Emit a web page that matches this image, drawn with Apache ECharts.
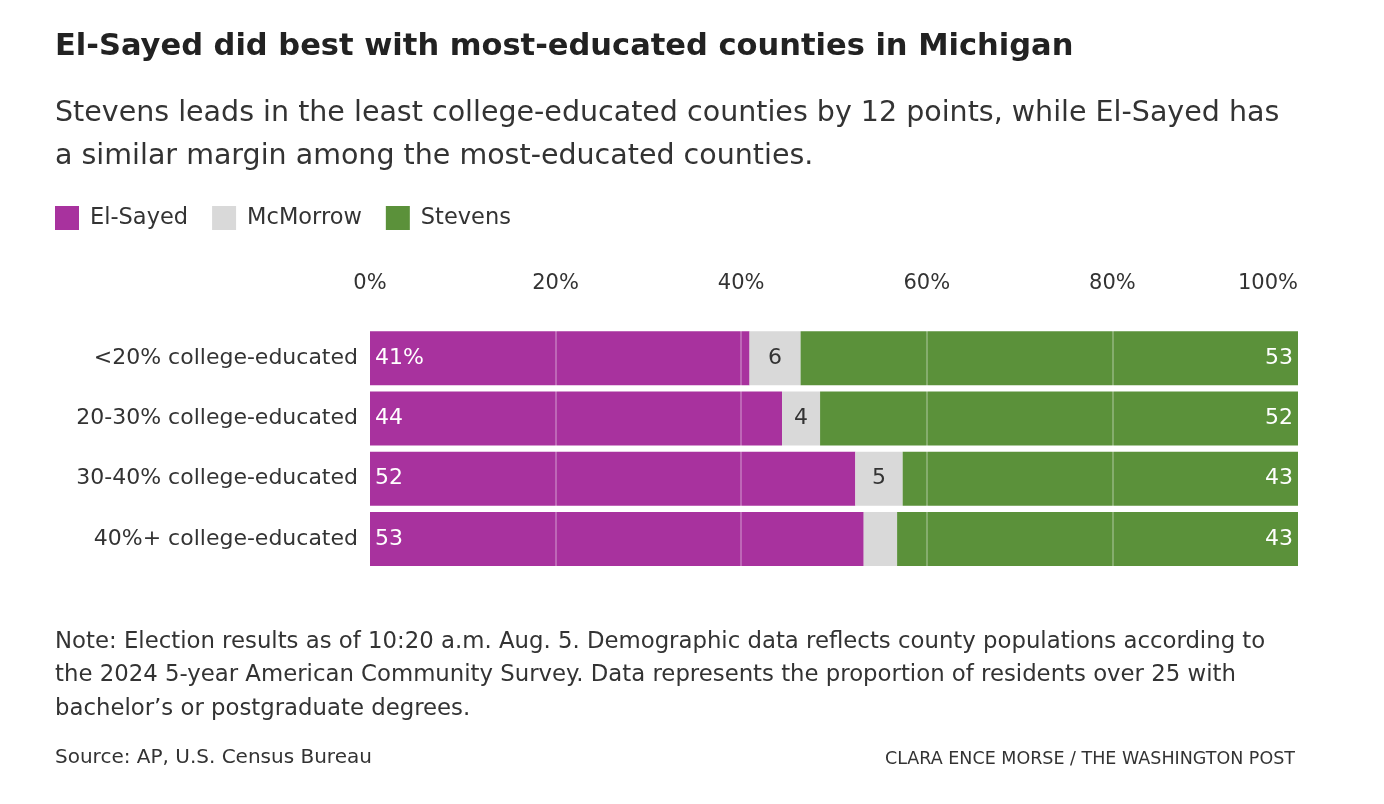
<!DOCTYPE html>
<html>
<head>
<meta charset="utf-8">
<script src="https://cdn.jsdelivr.net/npm/echarts@6/dist/echarts.min.js"></script>
<style>html,body{margin:0;padding:0;background:#fff}#chart{width:1384px;height:804px}</style>
</head>
<body>
<div id="chart"></div>
<script>
const chart = echarts.init(document.getElementById('chart'));

// share of vote by county education group
const groups = ['<20% college-educated', '20-30% college-educated', '30-40% college-educated', '40%+ college-educated'];
const elSayed = [40.9, 44.4, 52.3, 53.2];
const mcMorrow = [5.5, 4.1, 5.1, 3.6];
const stevens = [53.6, 51.5, 42.6, 43.2];
const shown = {
  elSayed: ['41%', '44', '52', '53'],
  mcMorrow: ['6', '4', '5', ''],
  stevens: ['53', '52', '43', '43']
};

const font = '"DejaVu Sans", sans-serif';

const option = {
  animation: false,
  textStyle: {fontFamily: font},
  title: [
    {text: 'El-Sayed did best with most-educated counties in Michigan', left: 50, top: 27,
     textStyle: {fontSize: 30.5, fontWeight: 'bold', color: '#222', fontFamily: font}},
    {text: 'Stevens leads in the least college-educated counties by 12 points, while El-Sayed has\na similar margin among the most-educated counties.', left: 50, top: 87,
     textStyle: {fontSize: 28.5, fontWeight: 'normal', color: '#333', lineHeight: 43, fontFamily: font}},
    {text: 'Note: Election results as of 10:20 a.m. Aug. 5. Demographic data reflects county populations according to\nthe 2024 5-year American Community Survey. Data represents the proportion of residents over 25 with\nbachelor\u2019s or postgraduate degrees.', left: 50, top: 620,
     textStyle: {fontSize: 22.8, fontWeight: 'normal', color: '#333', lineHeight: 33.5, fontFamily: font}},
    {text: 'Source: AP, U.S. Census Bureau', left: 50, top: 743,
     textStyle: {fontSize: 20, fontWeight: 'normal', color: '#333', fontFamily: font}},
    {text: 'CLARA ENCE MORSE / THE WASHINGTON POST', right: 84, top: 745,
     textStyle: {fontSize: 17.5, fontWeight: 'normal', color: '#333', fontFamily: font}}
  ],
  legend: {
    left: 50, top: 201, itemWidth: 24, itemHeight: 24, itemGap: 24, icon: 'rect',
    textStyle: {fontSize: 22.5, color: '#333', padding: [0, 0, 0, 6]},
    data: ['El-Sayed', 'McMorrow', 'Stevens']
  },
  grid: {left: 370, right: 86, top: 328, bottom: 235},
  xAxis: {
    type: 'value', position: 'top', min: 0, max: 100, interval: 20,
    axisLabel: {formatter: '{value}%', fontSize: 21, color: '#333', margin: 34, alignMaxLabel: 'right'},
    axisLine: {show: false}, axisTick: {show: false}, splitLine: {show: false}
  },
  yAxis: {
    type: 'category', inverse: true, data: groups,
    axisLabel: {fontSize: 22, color: '#333', margin: 12},
    axisLine: {show: false}, axisTick: {show: false}
  },
  series: [
    {name: 'El-Sayed', type: 'bar', stack: 'v', data: elSayed, barWidth: 54, color: '#a8329e',
     label: {show: true, position: 'insideLeft', color: '#fff', fontSize: 22, formatter: p => shown.elSayed[p.dataIndex]}},
    {name: 'McMorrow', type: 'bar', stack: 'v', data: mcMorrow, barWidth: 54, color: '#d9d9d9',
     label: {show: true, position: 'inside', color: '#333', fontSize: 22, formatter: p => shown.mcMorrow[p.dataIndex]}},
    {name: 'Stevens', type: 'bar', stack: 'v', data: stevens, barWidth: 54, color: '#5b913a',
     label: {show: true, position: 'insideRight', color: '#fff', fontSize: 22, formatter: p => shown.stevens[p.dataIndex]},
     markLine: {silent: true, symbol: 'none', label: {show: false},
       lineStyle: {color: 'rgba(255,255,255,0.35)', type: 'solid', width: 1.5},
       data: [{xAxis: 20}, {xAxis: 40}, {xAxis: 60}, {xAxis: 80}]}}
  ]
};

chart.setOption(option);
</script>
</body>
</html>
